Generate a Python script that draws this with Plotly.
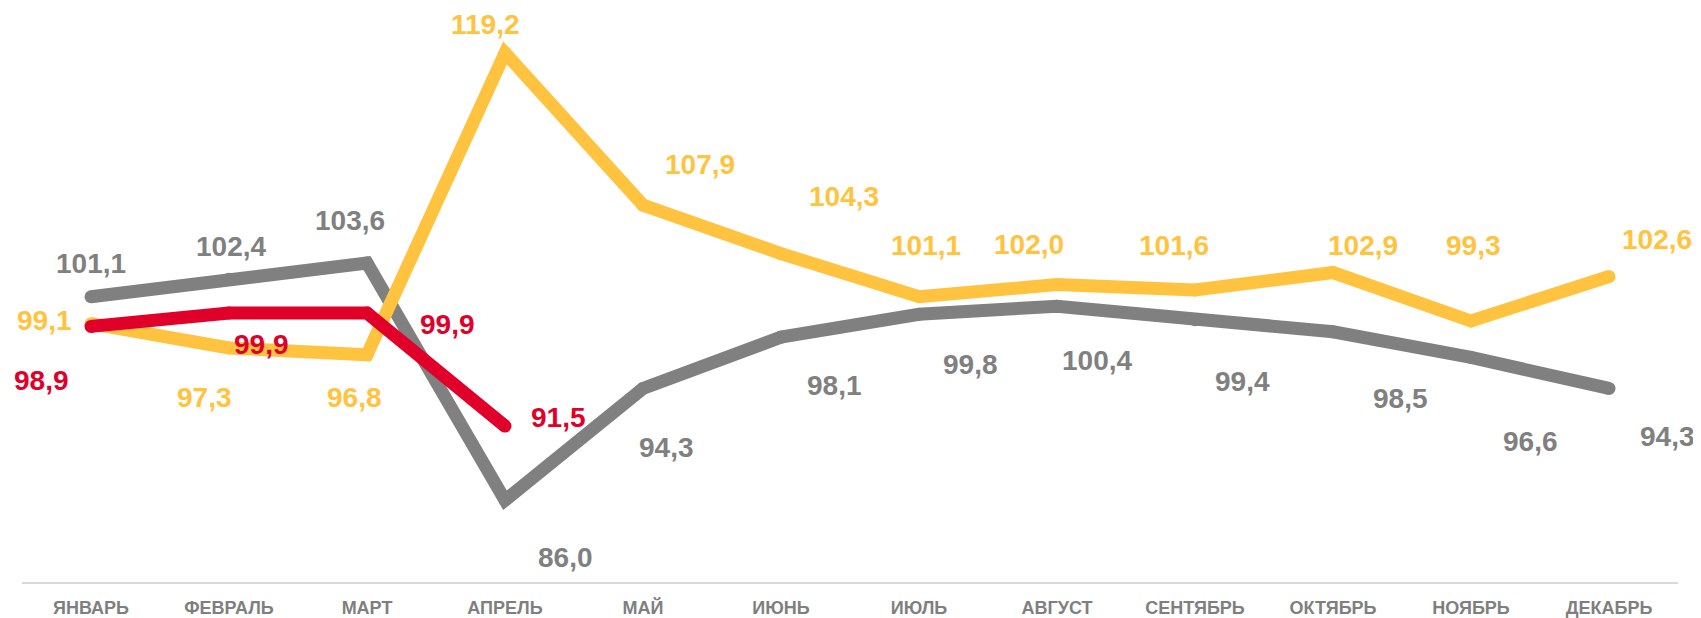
import plotly.graph_objects as go

months = ["ЯНВАРЬ", "ФЕВРАЛЬ", "МАРТ", "АПРЕЛЬ", "МАЙ", "ИЮНЬ",
          "ИЮЛЬ", "АВГУСТ", "СЕНТЯБРЬ", "ОКТЯБРЬ", "НОЯБРЬ", "ДЕКАБРЬ"]

gray_values = [101.1, 102.4, 103.6, 86.0, 94.3, 98.1, 99.8, 100.4, 99.4, 98.5, 96.6, 94.3]
yellow_values = [99.1, 97.3, 96.8, 119.2, 107.9, 104.3, 101.1, 102.0, 101.6, 102.9, 99.3, 102.6]
red_values = [98.9, 99.9, 99.9, 91.5]

GRAY = "#808080"
YELLOW = "#FFC340"
RED = "#E0002A"

# label offsets in pixels (dx right, dy down) — styling only
gray_offsets = [(0, -33), (2, -33), (-17, -43), (60, 57), (23, 59), (53, 48),
                (51, 50), (40, 54), (47, 62), (67, 67), (59, 84), (58, 48)]
yellow_offsets = [(-47, -3), (-25, 50), (-13, 43), (-20, -28), (57, -41), (63, -57),
                  (7, -51), (-28, -40), (-21, -45), (30, -27), (2, -76), (48, -37)]
red_offsets = [(-50, 54), (32, 32), (80, 12), (53, -9)]

LW = 13

fig = go.Figure()
for vals, color in [(gray_values, GRAY), (yellow_values, YELLOW), (red_values, RED)]:
    fig.add_trace(go.Scatter(
        x=months[:len(vals)], y=vals, mode="lines+markers",
        line=dict(color=color, width=LW),
        marker=dict(color=color, size=LW, line=dict(width=0)),
        hoverinfo="skip", showlegend=False,
    ))

def fmt(v):
    return f"{v:.1f}".replace(".", ",")

for vals, offs, color in [(gray_values, gray_offsets, GRAY),
                          (yellow_values, yellow_offsets, YELLOW),
                          (red_values, red_offsets, RED)]:
    for m, v, (dx, dy) in zip(months, vals, offs):
        fig.add_annotation(
            x=m, y=v, xref="x", yref="y", text=fmt(v), showarrow=False,
            xshift=dx, yshift=-dy, xanchor="center", yanchor="middle",
            font=dict(family="Liberation Sans, Arial, sans-serif", size=28,
                      color=color, weight="bold"),
        )

# page body has an 8px default margin, so the figure is sized to fit the window
fig.update_layout(
    width=1693, height=610,
    margin=dict(l=14, r=23, t=0, b=31),
    paper_bgcolor="white", plot_bgcolor="white",
    xaxis=dict(
        type="category", range=[-0.5, 11.5],
        showgrid=False, zeroline=False,
        showline=True, linecolor="#D9D9D9", linewidth=2,
        ticks="", ticklen=0, ticklabelstandoff=8,
        tickfont=dict(family="Liberation Sans, Arial, sans-serif", size=18,
                      color="#7F7F7F", weight="bold"),
    ),
    yaxis=dict(
        range=[79.93, 122.53], showgrid=False, zeroline=False,
        showline=False, showticklabels=False, ticks="",
    ),
)

fig.write_html("out.html")
